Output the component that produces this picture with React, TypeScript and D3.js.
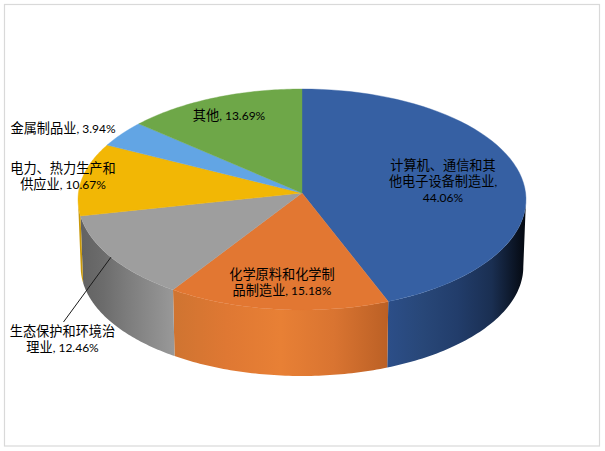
import React from "react";
import * as d3 from "d3";

const categories = ["计算机、通信和其他电子设备制造业", "化学原料和化学制品制造业", "生态保护和环境治理业", "电力、热力生产和供应业", "金属制品业", "其他"];
const shares = [44.06, 15.18, 12.46, 10.67, 3.94, 13.69];
const topColors = ["#3660a3", "#e27732", "#9e9e9e", "#f2b705", "#62a5e4", "#6ea748"];
const sideStops = [
  ["#2c4e88", "#284778", "#223d6b", "#1a2f52", "#04080f"],
  ["#cf7431", "#df7833", "#e88035", "#d97431", "#bb6025"],
  ["#626262", "#6c6c6c", "#7c7c7c", "#8a8a8a", "#989898"],
  ["#c8980a", "#c8980a", "#c8980a", "#c8980a", "#c8980a"],
  ["#4a7cab", "#4a7cab", "#4a7cab", "#4a7cab", "#4a7cab"],
  ["#537d36", "#537d36", "#537d36", "#537d36", "#537d36"],
];
const labelLines = [
  ["计算机、通信和其", "他电子设备制造业,", "44.06%"],
  ["化学原料和化学制", "品制造业, 15.18%"],
  ["生态保护和环境治", "理业, 12.46%"],
  ["电力、热力生产和", "供应业, 10.67%"],
  ["金属制品业, 3.94%"],
  ["其他, 13.69%"],
];
const labelCenters = [[443, 165], [282, 274], [62.5, 331], [63, 168], [63, 128], [229, 115]];

const W = 605, H = 451;
const cx = 302, hubY = 193, A = 110.1, RX = 223.6, K = 0.0588;
const depthY = 67.4, depthScale = 0.988;

function project(theta: number, bottom: boolean) {
  const u = Math.sin(theta), v = -Math.cos(theta);
  const w = 1 - K * v;
  const s = bottom ? depthScale : 1;
  return [cx + (s * RX * u) / w, hubY + (bottom ? depthY : 0) + (s * A * v) / w] as [number, number];
}

function Label({ lines, at }: { lines: string[]; at: number[] }) {
  const lh = 16;
  return (
    <text textAnchor="middle" fill="#000" fontFamily="'Noto Sans CJK SC', sans-serif" fontSize={13.2}>
      {lines.map((line, i) => (
        <tspan key={i} x={at[0]} y={at[1] + i * lh + 4.5}>
          {line.split(/([0-9., %]+)/).filter(Boolean).map((run, j) =>
            /^[0-9., %]+$/.test(run)
              ? <tspan key={j} fontFamily="Lato, sans-serif" fontSize={12}>{run}</tspan>
              : <tspan key={j}>{run}</tspan>
          )}
        </tspan>
      ))}
    </text>
  );
}

export default function App() {
  const arcs = d3.pie<number>().sort(null)(shares);
  const line = d3.line();
  const pts = (a: number, b: number, bottom: boolean) =>
    d3.range(0, 61).map((i) => project(a + ((b - a) * i) / 60, bottom));
  const tau = Math.PI * 2;

  // the side wall is only visible between the two silhouette angles
  const silR = Math.acos(-K), silL = tau - silR;

  const leaderStart = project((arcs[2].startAngle + arcs[2].endAngle) / 2, false);

  return (
    <svg width={W} height={H} style={{ position: "absolute", left: 0, top: 0 }}>
      <rect x={0} y={0} width={W} height={H} fill="#fff" />
      <rect x={4.5} y={4.5} width={595} height={441.5} fill="#fff" stroke="#d9d9d9" strokeWidth={1.2} />
      <defs>
        {arcs.map((a, i) => {
          const from = Math.max(a.startAngle, silR), to = Math.min(a.endAngle, silL);
          if (to <= from) return null;
          const xs = [project(from, false)[0], project(to, false)[0]];
          return (
            <linearGradient key={i} id={`side${i}`} gradientUnits="userSpaceOnUse" x1={Math.min(...xs)} x2={Math.max(...xs)} y1={0} y2={0}>
              {sideStops[i].map((c, j) => (
                <stop key={j} offset={j / (sideStops[i].length - 1)} stopColor={c} />
              ))}
            </linearGradient>
          );
        })}
      </defs>
      {arcs.map((a, i) => {
        const from = Math.max(a.startAngle, silR), to = Math.min(a.endAngle, silL);
        if (to <= from) return null;
        const d = line([...pts(from, to, false), ...pts(to, from, true)])! + "Z";
        return <path key={i} d={d} fill={`url(#side${i})`} />;
      })}
      {arcs.map((a, i) => {
        const d = line([[cx, hubY], ...pts(a.startAngle, a.endAngle, false)])! + "Z";
        return <path key={i} d={d} fill={topColors[i]} stroke={topColors[i]} strokeWidth={0.4} />;
      })}
      <line x1={leaderStart[0]} y1={leaderStart[1]} x2={63.5} y2={322} stroke="#1a1a1a" strokeWidth={1} />
      {labelLines.map((l, i) => <Label key={categories[i]} lines={l} at={labelCenters[i]} />)}
    </svg>
  );
}
